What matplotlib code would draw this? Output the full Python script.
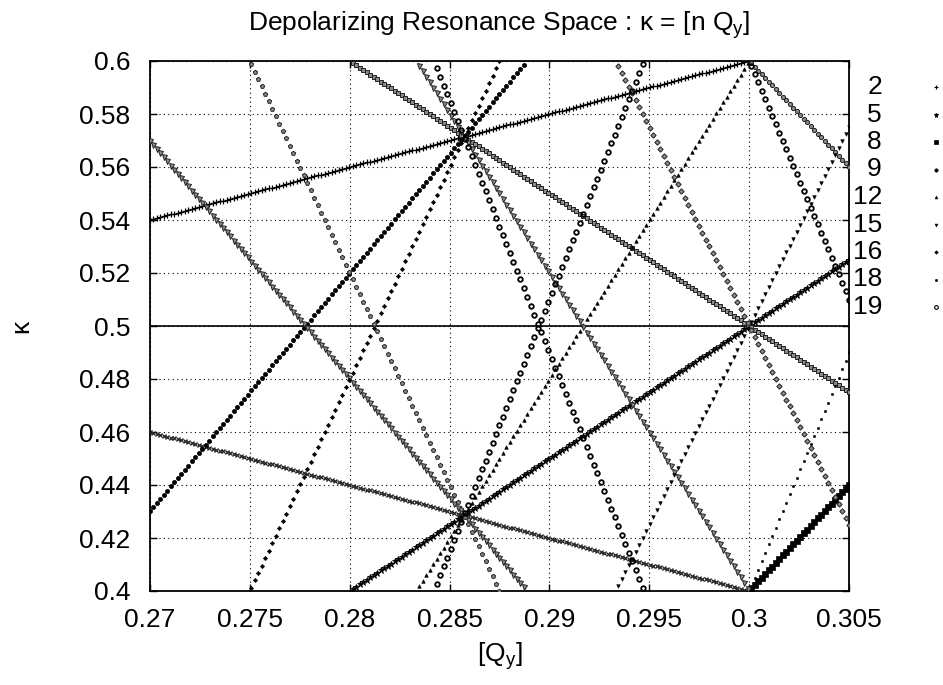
import numpy as np
import matplotlib
matplotlib.use("Agg")
import matplotlib.pyplot as plt
from matplotlib.lines import Line2D

plt.rcParams["font.family"] = ["Liberation Sans", "DejaVu Sans"]
plt.rcParams["mathtext.fontset"] = "custom"
plt.rcParams["mathtext.rm"] = "Liberation Sans"
plt.rcParams["mathtext.it"] = "Liberation Sans"

# Harmonic numbers n of the depolarizing resonances
harmonics = [2, 5, 8, 9, 12, 15, 16, 18, 19]
# Vertical tune scan: start, stop and number of samples
qy_start, qy_stop, qy_samples = 0.27, 0.305, 201
# Axis ranges and ticks
kappa_lo, kappa_hi = 0.4, 0.6
x_ticks = [0.27, 0.275, 0.28, 0.285, 0.29, 0.295, 0.3, 0.305]
x_tick_labels = ["0.27", "0.275", "0.28", "0.285", "0.29", "0.295", "0.3", "0.305"]
y_ticks = [0.4, 0.42, 0.44, 0.46, 0.48, 0.5, 0.52, 0.54, 0.56, 0.58, 0.6]
y_tick_labels = ["0.4", "0.42", "0.44", "0.46", "0.48", "0.5", "0.52", "0.54",
                 "0.56", "0.58", "0.6"]

FS = 19

# Point styles: (marker, size, face, edge, edge width) for the
# rising branch [n Qy] and the falling branch 1 - [n Qy]
GRAY_F, GRAY_E = "#8c8c8c", "#202020"
rising = {
    2: ("+", 4.0, "k", "k", 0.9),
    5: ("*", 4.5, "k", "k", 0.6),
    8: ("s", 4.0, "k", "k", 0.5),
    9: ("o", 3.0, "k", "k", 0.5),
    12: ("^", 2.6, "k", "k", 0.4),
    15: ("v", 2.6, "k", "k", 0.4),
    16: ("D", 2.2, "k", "k", 0.4),
    18: ("o", 1.8, "k", "k", 0.3),
    19: ("o", 3.3, "none", "k", 1.3),
}
falling = {
    2: ("x", 3.4, "k", "#202020", 0.9),
    5: ("s", 3.2, GRAY_F, GRAY_E, 0.7),
    8: ("o", 3.0, GRAY_F, GRAY_E, 0.7),
    9: ("v", 3.6, GRAY_F, GRAY_E, 0.7),
    12: ("v", 3.6, GRAY_F, GRAY_E, 0.7),
    15: ("D", 2.7, GRAY_F, GRAY_E, 0.7),
    16: ("p", 3.2, GRAY_F, GRAY_E, 0.7),
    18: ("o", 3.3, "none", "k", 1.3),
    19: ("o", 3.3, "none", "k", 1.3),
}

fig = plt.figure(figsize=(9.43, 6.85), dpi=100)
ax = fig.add_axes([150 / 943, 1 - 591 / 685, 699 / 943, 530 / 685])

qy = np.linspace(qy_start, qy_stop, qy_samples)


def draw(x, y, style):
    m, ms, fc, ec, mew = style
    keep = (y >= kappa_lo - 1e-9) & (y <= kappa_hi + 1e-9)
    ax.plot(x[keep], y[keep], linestyle="none", marker=m, markersize=ms,
            markerfacecolor=fc, markeredgecolor=ec, markeredgewidth=mew,
            zorder=3)


for n in harmonics:
    frac = n * qy - np.floor(n * qy)
    draw(qy, frac, rising[n])
    draw(qy, 1.0 - frac, falling[n])

ax.set_xlim(qy_start, qy_stop)
ax.set_ylim(kappa_lo, kappa_hi)
ax.set_xticks(x_ticks)
ax.set_xticklabels(x_tick_labels)
ax.set_yticks(y_ticks)
ax.set_yticklabels(y_tick_labels)
ax.tick_params(direction="in", length=5, width=1, top=True, right=True,
               labelsize=FS, colors="k")
ax.tick_params(axis="y", pad=14)
ax.tick_params(axis="x", pad=12)
ax.grid(True, color="k", linestyle=(0, (1, 3)), linewidth=0.8)
ax.axhline(0.5, color="k", linewidth=1.2, zorder=2)
for s in ax.spines.values():
    s.set_linewidth(1.3)

ax.set_title("Depolarizing Resonance Space : κ = [n Q$_{\\mathregular{y}}$]",
             fontsize=FS, pad=22)
ax.set_xlabel("[Q$_{\\mathregular{y}}$]", fontsize=FS, labelpad=6)
ax.set_ylabel("κ", fontsize=FS, labelpad=33)

# Key outside on the right: label then point sample
for i, n in enumerate(harmonics):
    yk = 1 - (87 + 27.5 * i) / 685
    fig.text(882 / 943, yk, str(n), ha="right", va="center", fontsize=FS)
    m, ms, fc, ec, mew = rising[n]
    fig.add_artist(Line2D([936 / 943], [yk], transform=fig.transFigure,
                          linestyle="none", marker=m,
                          markersize=max(ms * 0.8, 1.8),
                          markerfacecolor=fc, markeredgecolor=ec,
                          markeredgewidth=min(mew, 0.8)))

fig.savefig("out.png", dpi=100)
